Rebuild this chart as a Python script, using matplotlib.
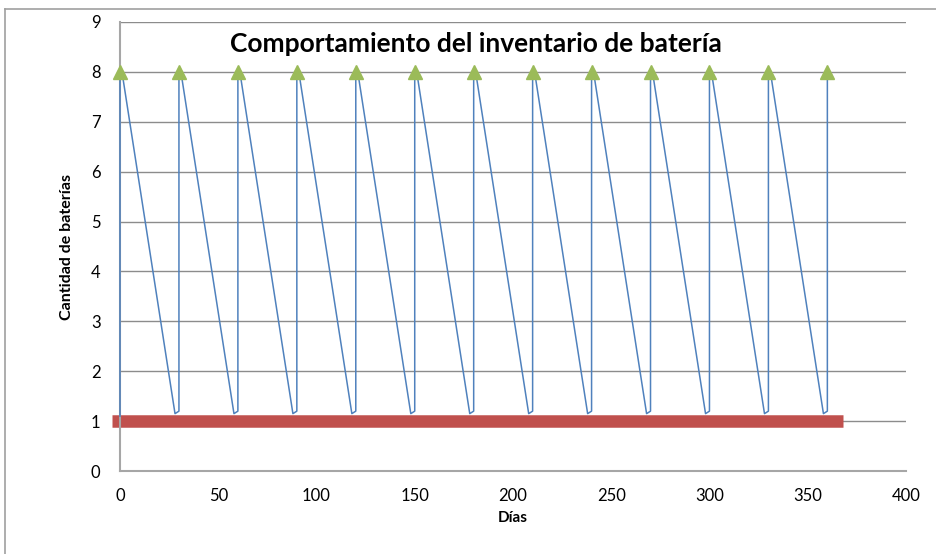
import matplotlib.pyplot as plt
from matplotlib.lines import Line2D

plt.rcParams['font.family'] = ['Lato', 'DejaVu Sans']

# inventory curve (days, stock)
dias = [0, 0, 1, 28, 30, 30, 31, 58, 60, 60, 61, 88, 90, 90, 91, 118, 120, 120,
        121, 148, 150, 150, 151, 178, 180, 180, 181, 208, 210, 210, 211, 238, 240,
        240, 241, 268, 270, 270, 271, 298, 300, 300, 301, 328, 330, 330, 331, 358,
        360, 360]
stock = [1.1, 8, 8, 1.15, 1.2, 8, 8, 1.15, 1.2, 8, 8, 1.15, 1.2, 8, 8, 1.15, 1.2, 8,
         8, 1.15, 1.2, 8, 8, 1.15, 1.2, 8, 8, 1.15, 1.2, 8, 8, 1.15, 1.2,
         8, 8, 1.15, 1.2, 8, 8, 1.15, 1.2, 8, 8, 1.15, 1.2, 8, 8, 1.15,
         1.2, 8]

# order points
pedido_x = [0, 30, 60, 90, 120, 150, 180, 210, 240, 270, 300, 330, 360]
pedido_y = [8] * 13

# safety stock
seguridad_x = [-4, 368]
seguridad_y = [1, 1]

fig = plt.figure(figsize=(9.36, 5.54), dpi=100)
ax = fig.add_axes([0.1282, 0.1498, 0.8397, 0.8105])

ax.plot(seguridad_x, seguridad_y, color='#C0504D', linewidth=9,
        solid_capstyle='butt', zorder=2, clip_on=False)
ax.plot(dias, stock, color='#4F81BD', linewidth=1.1, zorder=3, clip_on=False)
ax.plot(pedido_x, pedido_y, linestyle='none', marker='^', markersize=10,
        color='#9BBB59', zorder=4, clip_on=False)

ax.set_xlim(0, 400)
ax.set_ylim(0, 9)
ax.set_xticks(range(0, 401, 50))
ax.set_yticks(range(0, 10))
ax.yaxis.grid(True, color='#8C8C8C', linewidth=1)
ax.set_axisbelow(True)
for s in ['top', 'right']:
    ax.spines[s].set_visible(False)
for s in ['left', 'bottom']:
    ax.spines[s].set_color('#A6A6A6')
    ax.spines[s].set_linewidth(1.5)
ax.tick_params(length=0, labelsize=12, pad=12)
ax.tick_params(axis='y', pad=14)

ax.text(0.453, 0.95, 'Comportamiento del inventario de batería', transform=ax.transAxes,
        fontsize=19, fontweight='bold', ha='center', va='center')
ax.set_xlabel('Días', fontsize=11, fontweight='bold', labelpad=5)
ax.set_ylabel('Cantidad de baterías', fontsize=11.5, fontweight='bold', labelpad=12)

# outer frame
fig.add_artist(Line2D([0.005, 1.0], [0.984, 0.984], color='#A0A0A0', linewidth=1.2))
fig.add_artist(Line2D([0.005, 0.005], [0.0, 0.984], color='#A0A0A0', linewidth=1.2))

fig.savefig('out.png', dpi=100)
